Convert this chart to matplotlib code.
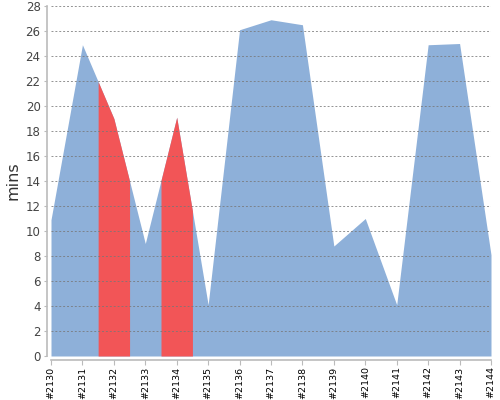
import numpy as np
import matplotlib
matplotlib.use("Agg")
import matplotlib.pyplot as plt

# build ids and minutes
builds = ['#2130', '#2131', '#2132', '#2133', '#2134', '#2135', '#2136', '#2137',
          '#2138', '#2139', '#2140', '#2141', '#2142', '#2143', '#2144']
mins = [10.9, 24.9, 19.0, 9.0, 19.1, 4.1, 26.1, 26.9, 26.5, 8.8, 11.0, 4.1, 24.9, 25.0, 8.1]
highlight = ['#2132', '#2134']

blue = '#8eb0d9'
red = '#f25557'

fig = plt.figure(figsize=(5, 4), dpi=100)
ax = fig.add_axes([0.102, 0.11, 0.88, 0.875])

x = np.arange(len(builds))
ax.fill_between(x, mins, 0, color=blue, linewidth=0, zorder=1)

# red strips around the highlighted builds (half a step each side)
for b in highlight:
    i = builds.index(b)
    xs = np.linspace(i - 0.5, i + 0.5, 41)
    ax.fill_between(xs, np.interp(xs, x, mins), 0, color=red, linewidth=0, zorder=2)

ax.set_xlim(0, len(builds) - 1)
ax.set_ylim(0, 28)
ax.set_yticks(range(0, 29, 2))
ax.set_xticks(x, builds)
ax.tick_params(axis='y', labelsize=8.5, labelcolor='#444444', color='#bbbbbb',
               length=2.5, width=0.8, pad=2)
ax.tick_params(axis='x', labelsize=6.8, labelcolor='black', labelrotation=90,
               color='#bbbbbb', length=3.5, width=0.8, pad=1)

ax.grid(axis='y', linestyle=(0, (2, 2)), color='#777777', linewidth=0.7,
        alpha=0.8, zorder=3)
ax.set_axisbelow(False)

for s in ['top', 'right']:
    ax.spines[s].set_visible(False)
for s in ['left', 'bottom']:
    ax.spines[s].set_color('#bbbbbb')
    ax.spines[s].set_linewidth(1.2)
    ax.spines[s].set_position(('outward', 3))

ax.set_ylabel('mins', fontsize=11.5, color='#333333', labelpad=4)

fig.savefig('out.png', dpi=100)
